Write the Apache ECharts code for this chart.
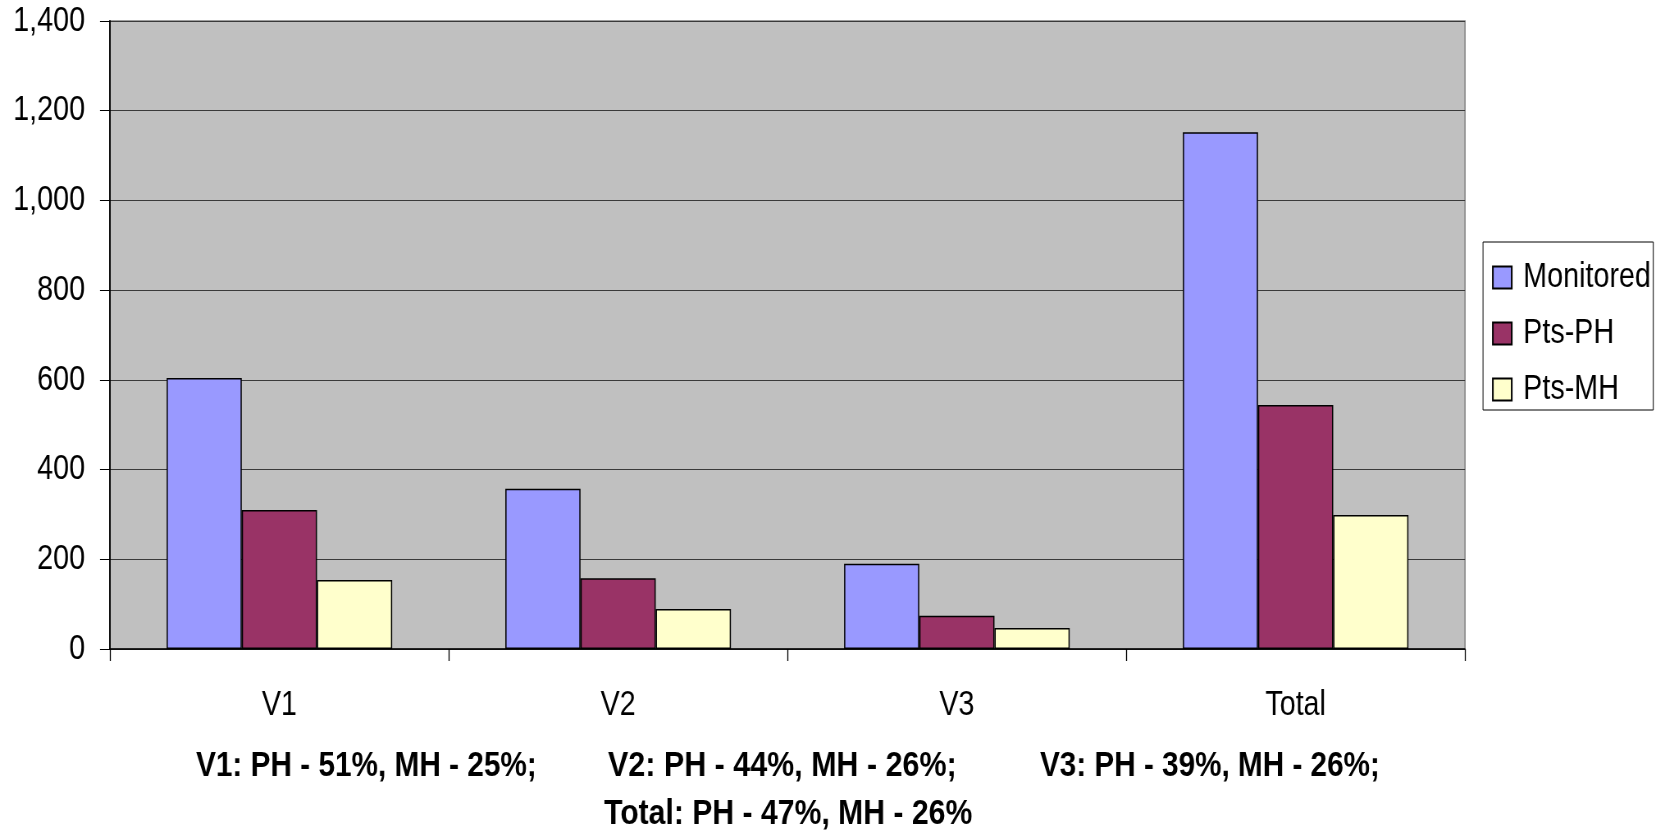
<!DOCTYPE html>
<html>
<head>
<meta charset="utf-8">
<script src="https://cdn.jsdelivr.net/npm/echarts@6/dist/echarts.min.js"></script>
<style>
html,body{margin:0;padding:0;background:#fff;overflow:hidden;}
#wrap{width:1665px;height:833px;overflow:hidden;}
#c{width:2030px;height:833px;transform:scaleX(0.8202);transform-origin:0 0;}
</style>
</head>
<body>
<div id="wrap"><div id="c"></div></div>
<script>
var categories = ['V1', 'V2', 'V3', 'Total'];
var monitored = [604, 357, 190, 1152];
var ptsPH = [310, 158, 74, 544];
var ptsMH = [154, 89, 47, 299];
var yTicks = [0, 200, 400, 600, 800, 1000, 1200, 1400];
var notes = [
  'V1: PH - 51%, MH - 25%;',
  'V2: PH - 44%, MH - 26%;',
  'V3: PH - 39%, MH - 26%;',
  'Total: PH - 47%, MH - 26%'
];

// The page is drawn 1/0.8202 wider and squeezed horizontally by CSS,
// so the Arial-like font looks condensed like the reference.
var S = 0.8202;
function px(v) { return v / S; }

var FONT = '"Liberation Sans", Arial, sans-serif';
var chart = echarts.init(document.getElementById('c'), null, {renderer: 'canvas'});
var barBorder = {borderColor: '#000', borderWidth: 1.5};
var noteFont = 'bold 35px ' + FONT;
function note(text, x, y, sx) {
  return {type: 'text', x: px(x), y: y, scaleX: sx,
          style: {text: text, font: noteFont, fill: '#000', verticalAlign: 'middle'}};
}
var option = {
  animation: false,
  textStyle: {fontFamily: FONT, color: '#000'},
  grid: {
    left: px(110), top: 21, right: 2030 - px(1465), bottom: 184,
    outerBoundsMode: 'none', containLabel: false,
    show: true, backgroundColor: '#C0C0C0', borderColor: '#808080', borderWidth: 1.5
  },
  legend: {
    orient: 'vertical', left: px(1483), top: 242,
    backgroundColor: '#fff', borderColor: '#000', borderWidth: 1,
    padding: [18, 3, 3, 11], itemGap: 21, itemWidth: 23, itemHeight: 22,
    icon: 'rect',
    textStyle: {fontFamily: FONT, fontSize: 35, lineHeight: 35, color: '#000', padding: [0, 0, 0, 9]},
    data: ['Monitored', 'Pts-PH', 'Pts-MH']
  },
  xAxis: {
    type: 'category', data: categories,
    axisLine: {lineStyle: {color: '#000', width: 1.5}},
    axisTick: {show: true, length: 12, lineStyle: {color: '#000', width: 1.3}},
    axisLabel: {fontFamily: FONT, fontSize: 35, color: '#000', margin: 39}
  },
  yAxis: {
    type: 'value', min: yTicks[0], max: yTicks[yTicks.length - 1], interval: 200,
    axisLine: {show: true, lineStyle: {color: '#000', width: 1.8}},
    axisTick: {show: true, length: px(10), lineStyle: {color: '#000'}},
    splitLine: {lineStyle: {color: '#3a3a3a', width: 1.2}},
    axisLabel: {
      fontFamily: FONT, fontSize: 35, color: '#000', margin: px(25),
      formatter: function (v) { return v.toLocaleString('en-US'); }
    }
  },
  series: [
    {name: 'Monitored', type: 'bar', data: monitored, barGap: '0%', barCategoryGap: '33.4%',
     itemStyle: Object.assign({color: '#9999FF'}, barBorder)},
    {name: 'Pts-PH', type: 'bar', data: ptsPH,
     itemStyle: Object.assign({color: '#993366'}, barBorder)},
    {name: 'Pts-MH', type: 'bar', data: ptsMH,
     itemStyle: Object.assign({color: '#FFFFCC'}, barBorder)}
  ],
  graphic: [
    note(notes[0], 196, 766, 1.037),
    note(notes[1], 608, 766, 1.061),
    note(notes[2], 1040, 766, 1.034),
    note(notes[3], 604, 814, 1.051)
  ]
};
chart.setOption(option);
</script>
</body>
</html>
